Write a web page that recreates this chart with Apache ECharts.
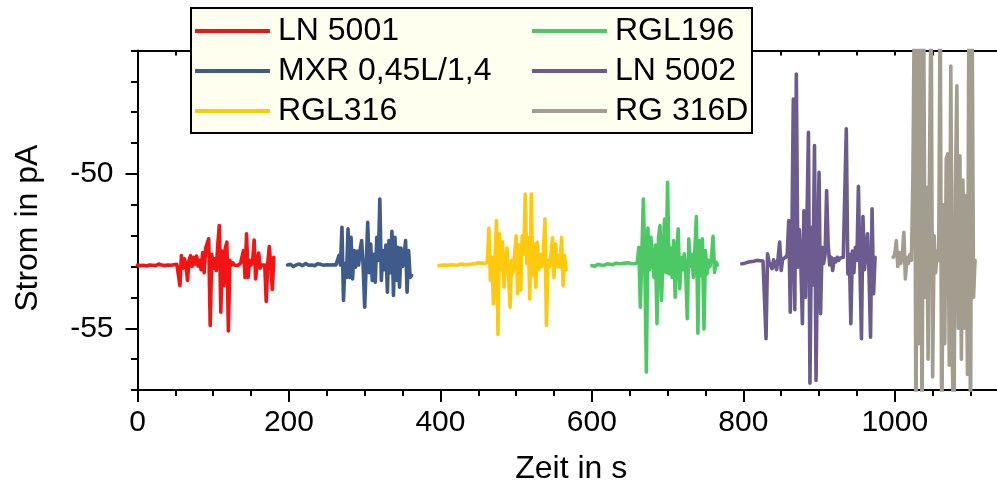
<!DOCTYPE html>
<html>
<head>
<meta charset="utf-8">
<script src="https://cdn.jsdelivr.net/npm/echarts@6/dist/echarts.min.js"></script>
<style>
  html, body { margin: 0; padding: 0; background: #fff; }
  #chart { width: 997px; height: 493px; }
</style>
</head>
<body>
<div id="chart"></div>
<script>
// Current traces (pA) sampled every STEP seconds, one array per sample.
const STEP = 2;

const names = ['LN 5001', 'MXR 0,45L/1,4', 'RGL316', 'RGL196', 'LN 5002', 'RG 316D'];
const colors = ['#F01414', '#3F5B8C', '#FFC90E', '#4CC864', '#6B5B8E', '#A39D90'];
const startTimes = [0, 198, 398, 600, 798, 998];

const ln5001 = [
  -52.95,-52.93,-52.97,-52.92,-52.96,-52.94,-52.98,-52.93,-52.95,-52.91,-52.96,-52.94,-52.97,-52.95,
  -52.92,-52.96,-52.95,-52.93,-52.97,-52.94,-52.95,-52.92,-52.96,-52.98,-52.94,-52.95,-52.93,-52.96,
  -53.61,-52.64,-53.05,-52.75,-52.95,-53.45,-52.80,-52.65,-53.00,-52.70,-52.92,-52.66,-52.98,-52.80,
  -53.10,-52.55,-53.20,-52.40,-52.35,-52.10,-54.91,-52.60,-53.05,-52.75,-53.13,-52.30,-51.67,-54.48,
  -52.50,-53.61,-52.40,-52.21,-55.09,-52.80,-52.95,-52.88,-52.95,-52.90,-52.97,-52.92,-52.90,-52.94,
  -52.48,-53.35,-51.94,-53.35,-52.80,-52.95,-52.85,-52.14,-53.40,-52.90,-52.56,-53.05,-52.95,-52.90,
  -52.95,-54.13,-52.90,-52.35,-52.95,-53.74,-52.70
];

const mxr = [
  -52.95,-52.98,-52.93,-52.96,-53.00,-52.97,-52.94,-52.96,-52.92,-52.95,-52.97,-52.93,-52.90,-52.94,
  -52.96,-52.92,-52.95,-52.93,-52.97,-52.94,-52.91,-52.95,-52.93,-52.90,-52.96,-52.92,-52.94,-52.97,
  -52.95,-52.92,-52.94,-52.91,-52.95,-52.93,
  -52.64,-52.95,-51.73,-54.10,-52.90,-53.35,-51.78,-53.35,-52.05,-53.40,-52.48,-53.02,-52.50,-52.95,
  -52.45,-52.16,-53.00,-54.32,-54.30,-51.57,-53.20,-52.27,-53.45,-52.60,-53.51,-52.05,-52.80,-50.81,
  -53.45,-52.48,-53.10,-52.30,-53.83,-52.16,-53.20,-51.86,-53.94,-52.05,-53.45,-52.38,-53.67,-52.40,
  -53.00,-52.70,-52.16,-53.83,-52.48,-53.35,-53.29
];

const rgl316 = [
  -52.97,-52.99,-52.96,-52.98,-52.95,-52.97,-52.96,-52.98,-52.94,-52.96,-52.95,-52.93,-52.96,-52.94,
  -52.92,-52.95,-52.93,-52.91,-52.94,-52.92,-52.93,-52.90,-52.92,-52.89,-52.91,-52.90,-52.88,-52.91,
  -52.89,-52.87,-52.90,-52.88,-52.86,
  -51.75,-53.45,-52.70,-54.21,-52.90,-51.51,-55.20,-51.94,-53.10,-52.20,-53.67,-52.90,-52.40,-53.30,
  -54.32,-52.80,-53.20,-52.60,-52.00,-53.88,-52.30,-53.77,-52.00,-52.60,-50.65,-52.90,-52.07,-54.05,
  -50.65,-53.30,-52.27,-53.67,-52.21,-53.10,-52.60,-53.00,-52.50,-51.46,-54.91,-52.80,-53.02,-52.60,
  -52.07,-53.35,-52.27,-53.00,-52.64,-53.02,-52.05,-53.61,-52.64,-53.10
];

const rgl196 = [
  -52.97,-52.95,-52.99,-52.96,-52.93,-52.97,-52.95,-52.92,-52.96,-52.94,-52.91,-52.95,-52.93,-52.90,
  -52.94,-52.92,-52.89,-52.93,-52.91,-52.94,-52.90,-52.92,-52.89,-52.91,-52.88,-52.92,-52.90,-52.87,
  -52.91,-52.89,-52.88,
  -52.38,-54.32,-52.60,-50.81,-53.00,-56.42,-51.75,-53.10,-52.05,-52.80,-53.35,-52.30,-54.85,-52.05,
  -51.67,-54.10,-52.60,-51.46,-53.20,-50.27,-53.24,-52.40,-53.35,-52.16,-53.99,-52.60,-51.78,-53.72,
  -52.70,-53.10,-52.59,-53.24,-54.69,-52.10,-53.00,-52.60,-53.35,-52.50,-51.38,-55.16,-52.16,-53.30,
  -52.10,-55.02,-52.48,-53.24,-52.80,-53.00,-52.70,-52.02,-53.19,-52.86,-52.95
];

const ln5002 = [
  -52.91,-52.93,-52.89,-52.90,-52.86,-52.88,-52.84,-52.87,-52.83,-52.85,-52.80,-52.84,-52.81,-52.78,
  -52.82,-52.79,
  -55.34,-52.59,-52.85,-52.80,-53.07,-52.78,-52.75,-53.10,-52.70,-52.21,-53.13,-52.75,-52.81,-52.70,
  -52.60,-51.51,-54.48,-52.40,-47.57,-54.40,-46.76,-53.02,-51.80,-52.90,-54.85,-51.19,-54.00,-51.62,
  -48.65,-56.78,-51.73,-53.60,-49.08,-56.69,-52.50,-49.95,-54.53,-52.38,-52.90,-52.60,-50.54,-52.27,
  -52.95,-52.70,-53.13,-52.75,-52.85,-52.70,-52.80,-52.72,-52.78,-52.70,-52.75,-48.54,-53.24,-52.60,
  -54.85,-52.50,-53.20,-52.38,-52.80,-50.40,-53.02,-55.34,-51.38,-53.10,-52.50,-51.94,-53.20,-55.29,
  -51.13,-53.88,-52.70
];

const rg316d = [
  -52.70,-52.60,-52.16,-53.00,-52.55,-52.90,-52.60,-51.89,-53.40,-52.70,-52.90,-52.60,-52.80,-50.00,
  -44.00,-59.00,-44.00,-55.50,-44.00,-59.00,-44.00,-54.00,-50.43,-56.00,-49.50,-44.00,-56.58,-52.00,
  -53.20,-52.50,-52.80,-44.00,-59.00,-51.00,-55.50,-49.50,-49.35,-56.20,-46.50,-56.00,-59.00,-50.50,
  -47.14,-55.00,-49.41,-56.00,-50.20,-55.00,-50.70,-56.50,-44.00,-59.00,-44.00,-54.00,-52.80
];

const traces = [ln5001, mxr, rgl316, rgl196, ln5002, rg316d];

// Axis ticks and labels
const xMin = 0, xMax = 1135;
const yMin = -57, yMax = -46;
const xMajor = [0, 200, 400, 600, 800, 1000];
const xMinor = [0, 50, 100, 150, 200, 250, 300, 350, 400, 450, 500, 550, 600, 650, 700, 750, 800, 850, 900, 950, 1000, 1050, 1100];
const yMajor = [-55, -50];
const yMinor = [-57, -56, -55, -54, -53, -52, -51, -50, -49, -48, -47, -46];

const FONT = 'Liberation Sans, Arial, Helvetica, sans-serif';
const black = '#000';
const plain = v => String(v);

const seriesList = traces.map((vals, k) => ({
  name: names[k],
  type: 'line',
  xAxisIndex: 0,
  yAxisIndex: 0,
  color: colors[k],
  showSymbol: false,
  symbol: 'none',
  sampling: null,
  clip: true,
  lineStyle: { width: 3.6, color: colors[k], join: 'round', cap: 'round' },
  data: vals.map((v, i) => [startTimes[k] + i * STEP, v]),
  z: 2
}));

const legendBase = {
  orient: 'vertical',
  top: 15,
  itemWidth: 75,
  itemHeight: 4,
  itemGap: 8,
  icon: 'rect',
  padding: 0,
  z: 10,
  selectedMode: false,
  textStyle: { fontSize: 32, lineHeight: 32, color: black, fontFamily: FONT, padding: [0, 0, 0, 3] }
};

const option = {
  animation: false,
  backgroundColor: '#fff',
  grid: { left: 137.5, right: 0, top: 50.5, bottom: 103, containLabel: false },
  xAxis: [
    {
      type: 'value', min: xMin, max: xMax, position: 'bottom',
      axisLine: { show: true, onZero: false, lineStyle: { color: black, width: 2 } },
      axisTick: { show: true, customValues: xMajor, length: 12, lineStyle: { color: black, width: 2 } },
      axisLabel: { customValues: xMajor, formatter: plain, fontSize: 30, color: black, fontFamily: FONT, margin: 18 },
      splitLine: { show: false },
      name: 'Zeit in s', nameLocation: 'middle', nameGap: 63,
      nameTextStyle: { fontSize: 32, color: black, fontFamily: FONT, padding: [0, 0, 0, 8] }
    },
    {
      type: 'value', min: xMin, max: xMax, position: 'bottom',
      axisLine: { show: false, onZero: false },
      axisTick: { show: true, customValues: xMinor, length: 6, lineStyle: { color: black, width: 2 } },
      axisLabel: { show: false },
      splitLine: { show: false }
    },
    {
      type: 'value', min: xMin, max: xMax, position: 'top',
      axisLine: { show: true, onZero: false, lineStyle: { color: black, width: 2 } },
      axisTick: { show: true, inside: true, customValues: xMinor, length: 5, lineStyle: { color: black, width: 2 } },
      axisLabel: { show: false },
      splitLine: { show: false }
    }
  ],
  yAxis: [
    {
      type: 'value', min: yMin, max: yMax, position: 'left',
      axisLine: { show: true, onZero: false, lineStyle: { color: black, width: 2 } },
      axisTick: { show: true, customValues: yMajor, length: 12, lineStyle: { color: black, width: 2 } },
      axisLabel: { customValues: yMajor, formatter: plain, fontSize: 30, color: black, fontFamily: FONT, margin: 24 },
      splitLine: { show: false },
      name: 'Strom in pA', nameLocation: 'middle', nameGap: 93,
      nameTextStyle: { fontSize: 32, color: black, fontFamily: FONT, padding: [0, 16, 0, 0] }
    },
    {
      type: 'value', min: yMin, max: yMax, position: 'left',
      axisLine: { show: false, onZero: false },
      axisTick: { show: true, customValues: yMinor, length: 6.5, lineStyle: { color: black, width: 2 } },
      axisLabel: { show: false },
      splitLine: { show: false }
    }
  ],
  legend: [
    Object.assign({}, legendBase, { left: 195, data: [names[0], names[1], names[2]] }),
    Object.assign({}, legendBase, { left: 532, data: [names[3], names[4], names[5]] })
  ],
  graphic: [
    {
      type: 'rect', z: 5, silent: true,
      shape: { x: 191, y: 8, width: 561, height: 125 },
      style: { fill: '#FFFFF0', stroke: black, lineWidth: 2 }
    }
  ],
  series: seriesList
};

const chart = echarts.init(document.getElementById('chart'), null, { renderer: 'canvas' });
chart.setOption(option);
</script>
</body>
</html>
